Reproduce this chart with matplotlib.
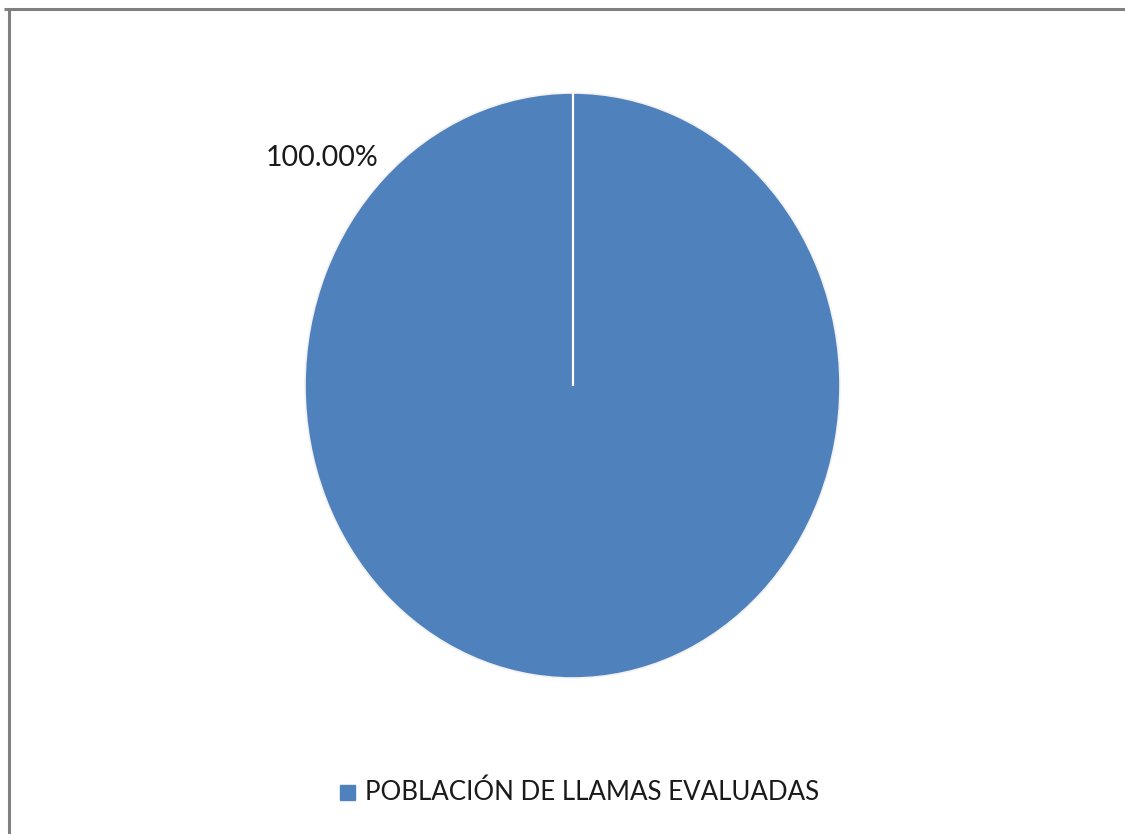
import matplotlib
matplotlib.use("Agg")
import matplotlib.pyplot as plt
from matplotlib.lines import Line2D
from matplotlib.patches import Rectangle
import numpy as np

categories = ["POBLACIÓN DE LLAMAS EVALUADAS"]
values = [100.0]
pct_labels = ["100.00%"]
colors = ["#4F81BD"]

W, H = 1125, 834
fig = plt.figure(figsize=(W / 100, H / 100), dpi=100)
fig.patch.set_facecolor("white")

def fx(px):
    return px / W

def fy(py):
    return 1 - py / H

# frame lines (top and left) like the reference
fig.add_artist(Line2D([fx(4), fx(1125)], [fy(8.5), fy(8.5)], color="#808080", lw=2.2,
                      solid_capstyle="butt"))
fig.add_artist(Line2D([fx(8.5), fx(8.5)], [fy(9.5), fy(834)], color="#808080", lw=2.2,
                      solid_capstyle="butt"))

# pie axes (elliptical pie)
left, right, top, bottom = 305, 840, 93, 678
ax = fig.add_axes([fx(left), fy(bottom), fx(right - left), (bottom - top) / H])
wedges, _ = ax.pie(values, colors=colors, startangle=90, counterclock=False,
                   radius=1.0, wedgeprops=dict(edgecolor="#f2f2f2", linewidth=1.2))
ax.set_aspect("auto")
ax.set_xlim(-1.0, 1.0)
ax.set_ylim(-1.0, 1.0)
ax.axis("off")

# radial separator line from wedge start
w = wedges[0]
ang = np.deg2rad(w.theta2 if w.theta2 % 360 == 90 else w.theta1)
cx, cy = w.center
ax.plot([cx, cx + w.r * np.cos(ang)], [cy, cy + w.r * np.sin(ang)],
        color="white", lw=1.6, solid_capstyle="butt")

# data label
fig.text(fx(322), fy(158), pct_labels[0], fontsize=20.5, family="Lato",
         ha="center", va="center", color="#1a1a1a")

# legend
fig.add_artist(Rectangle((fx(340), fy(800)), fx(15), 15 / H, color=colors[0]))
fig.text(fx(365), fy(792), categories[0], fontsize=18.6, family="Lato",
         ha="left", va="center", color="#1a1a1a")

fig.savefig("out.png", dpi=100, facecolor="white")
